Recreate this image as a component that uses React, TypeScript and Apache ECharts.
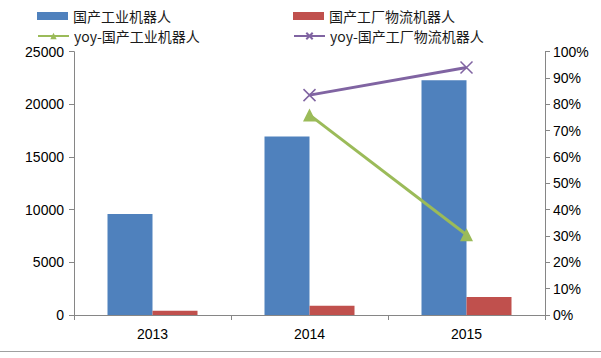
import React, { useEffect, useRef } from "react";
import * as echarts from "echarts";

const categories = ["2013", "2014", "2015"];
const industrialRobots = [9600, 16950, 22300];
const logisticsRobots = [400, 880, 1720];
const yoyIndustrial = [null, 0.76, 0.305];
const yoyLogistics = [null, 0.835, 0.94];
const leftTicks = [0, 5000, 10000, 15000, 20000, 25000];

const names = [
  "国产工业机器人",
  "国产工厂物流机器人",
  "yoy-国产工业机器人",
  "yoy-国产工厂物流机器人",
];

const BLUE = "#4F81BD";
const RED = "#C0504D";
const GREEN = "#9BBB59";
const PURPLE = "#8064A2";
const AXIS = "#868686";
const FONT = "'Liberation Sans', 'Noto Sans CJK SC', sans-serif";

export default function App() {
  const ref = useRef<HTMLDivElement>(null);
  useEffect(() => {
    const chart = echarts.init(ref.current!, null, { renderer: "svg" });
    const legendText = { fontSize: 14, color: "#1a1a1a", fontFamily: "'Noto Sans CJK SC', sans-serif" };
    const legendBase = {
      itemWidth: 31,
      itemHeight: 8,
      itemGap: 2,
      padding: 0,
      textStyle: legendText,
    };
    chart.setOption({
      animation: false,
      backgroundColor: "#fff",
      textStyle: { fontFamily: FONT },
      legend: [
        { ...legendBase, left: 37, top: 9, data: [{ name: names[0], icon: "rect" }] },
        { ...legendBase, left: 293, top: 9, data: [{ name: names[1], icon: "rect" }] },
        { ...legendBase, left: 37, top: 29, data: [names[2]] },
        { ...legendBase, left: 293, top: 29, data: [names[3]] },
      ],
      grid: { left: 74, right: 56, top: 51.7, bottom: 43 },
      xAxis: {
        type: "category",
        data: categories,
        axisLine: { lineStyle: { color: AXIS, width: 1 } },
        axisTick: { show: true, length: 5, lineStyle: { color: AXIS } },
        axisLabel: { fontSize: 14, color: "#000", margin: 12, fontFamily: FONT },
      },
      yAxis: [
        {
          type: "value",
          min: 0,
          max: 25000,
          interval: 5000,
          axisLine: { show: true, lineStyle: { color: AXIS } },
          axisTick: { show: true, length: 5, lineStyle: { color: AXIS } },
          splitLine: { show: false },
          axisLabel: {
            fontSize: 14,
            color: "#000",
            margin: 10,
            fontFamily: FONT,
            formatter: (v: number) => (leftTicks.includes(v) ? String(v) : ""),
          },
        },
        {
          type: "value",
          min: 0,
          max: 1,
          interval: 0.1,
          position: "right",
          axisLine: { show: true, lineStyle: { color: AXIS } },
          axisTick: { show: true, length: 5, lineStyle: { color: AXIS } },
          splitLine: { show: false },
          axisLabel: {
            fontSize: 14,
            color: "#000",
            margin: 8,
            fontFamily: FONT,
            formatter: (v: number) => Math.round(v * 100) + "%",
          },
        },
      ],
      series: [
        {
          name: names[0],
          type: "bar",
          data: industrialRobots,
          barWidth: 45,
          barGap: "0%",
          itemStyle: { color: BLUE },
        },
        {
          name: names[1],
          type: "bar",
          data: logisticsRobots,
          barWidth: 45,
          barGap: "0%",
          itemStyle: { color: RED },
        },
        {
          name: names[2],
          type: "line",
          yAxisIndex: 1,
          data: yoyIndustrial,
          symbol: "triangle",
          symbolSize: 13,
          lineStyle: { color: GREEN, width: 3 },
          itemStyle: { color: GREEN },
        },
        {
          name: names[3],
          type: "line",
          yAxisIndex: 1,
          data: yoyLogistics,
          symbol: "path://M0,0L10,10M10,0L0,10",
          symbolSize: 12,
          lineStyle: { color: PURPLE, width: 3 },
          itemStyle: { color: "none", borderColor: PURPLE, borderWidth: 1.5 },
        },
      ],
      graphic: [
        {
          type: "line",
          shape: { x1: 0, y1: 351.5, x2: 601, y2: 351.5 },
          style: { stroke: "#A0A0A0", lineWidth: 1 },
        },
      ],
    });
    return () => chart.dispose();
  }, []);
  return <div ref={ref} style={{ width: 601, height: 358, position: "absolute", left: 0, top: 0 }} />;
}
